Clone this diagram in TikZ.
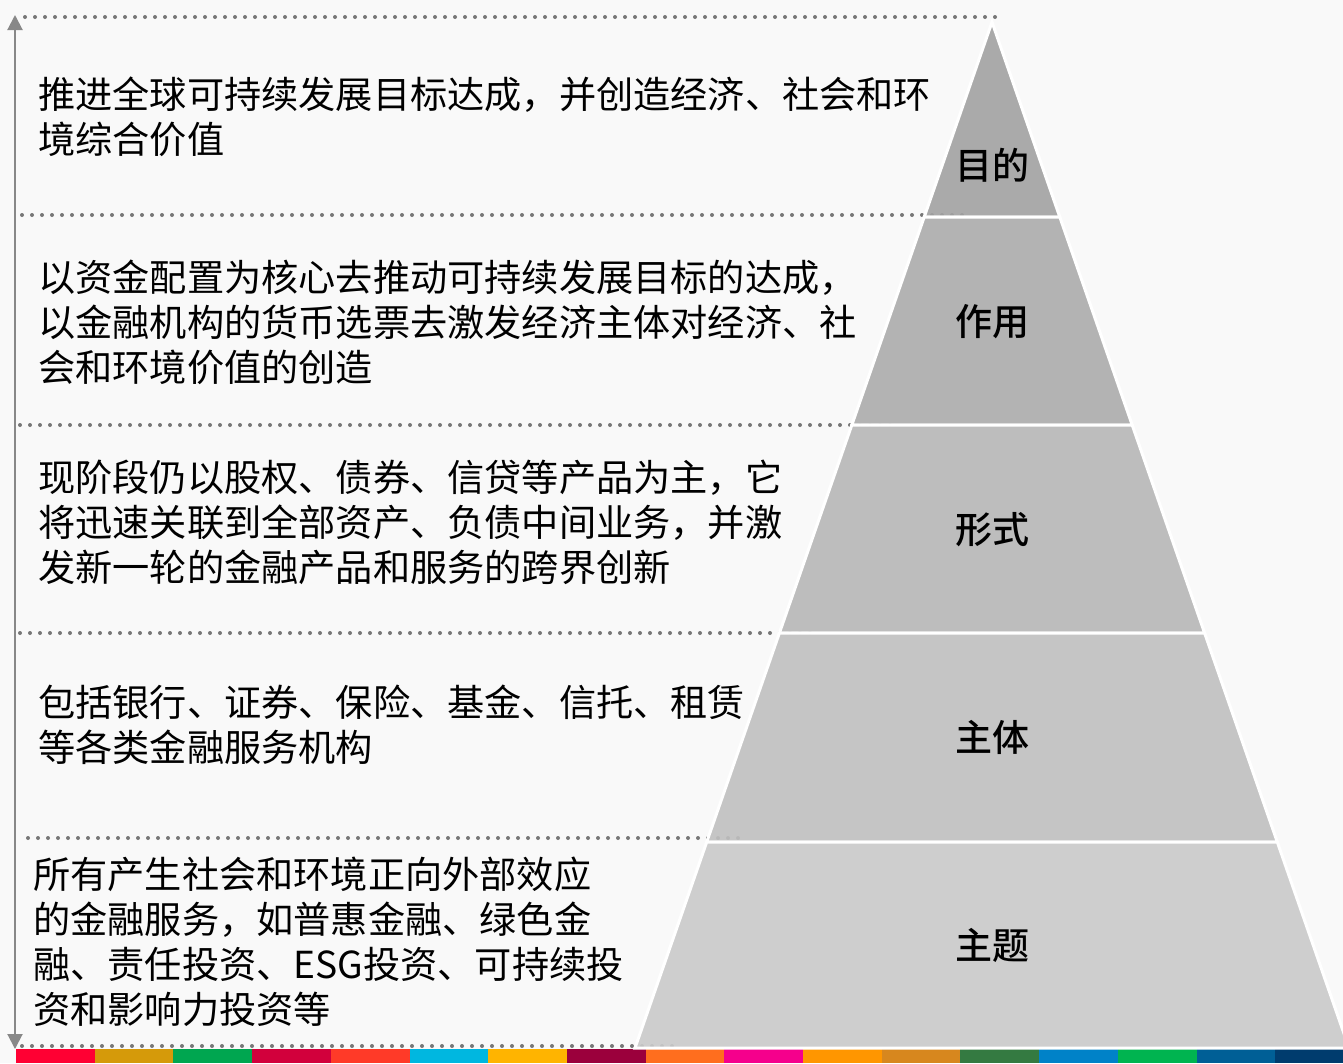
\documentclass[tikz,border=0pt]{standalone}
\usepackage{fontspec}
\newfontfamily\cjk{Noto Sans CJK SC}
\newfontfamily\cjkmed{Noto Sans CJK SC Medium}
\usetikzlibrary{arrows.meta}
\definecolor{bg}{HTML}{F9F9F9}
\definecolor{dotgray}{HTML}{777777}
\definecolor{axisgray}{HTML}{888888}
\definecolor{tierA}{HTML}{A2A2A2}
\definecolor{tierB}{HTML}{ACACAC}
\definecolor{tierC}{HTML}{B7B7B7}
\definecolor{tierD}{HTML}{C0C0C0}
\definecolor{tierE}{HTML}{CACACA}
\definecolor{sdga}{HTML}{FF0033}
\definecolor{sdgb}{HTML}{D59A0A}
\definecolor{sdgc}{HTML}{00A650}
\definecolor{sdgd}{HTML}{D2003C}
\definecolor{sdge}{HTML}{FF3A28}
\definecolor{sdgf}{HTML}{00B7E0}
\definecolor{sdgg}{HTML}{FFB400}
\definecolor{sdgh}{HTML}{9B003C}
\definecolor{sdgi}{HTML}{FF6E1E}
\definecolor{sdgj}{HTML}{F5008C}
\definecolor{sdgk}{HTML}{FF9600}
\definecolor{sdgl}{HTML}{D7871E}
\definecolor{sdgm}{HTML}{347A41}
\definecolor{sdgn}{HTML}{0082C8}
\definecolor{sdgo}{HTML}{00B450}
\definecolor{sdgp}{HTML}{005F96}
\definecolor{sdgq}{HTML}{003C6E}

\begin{document}
\begin{tikzpicture}[x=1pt, y=-1pt,
		sep/.style={dotgray, line width=4pt, line cap=round, dash pattern=on 0pt off 10pt},
		band/.style={draw=white, line width=3pt, fill opacity=0.9},
		desc/.style={anchor=west, align=left, inner sep=0pt, font=\cjk\fontsize{37.2}{45}\selectfont},
		tier/.style={inner sep=0pt, font=\cjkmed\fontsize{37}{45}\selectfont}]
			\fill[bg] (0,0) rectangle (1343,1063);
			\useasboundingbox (0,0) rectangle (1343,1063);
			\foreach \c [count=\i from 0] in {sdga,sdgb,sdgc,sdgd,sdge,sdgf,sdgg,sdgh,sdgi,sdgj,sdgk,sdgl,sdgm,sdgn,sdgo,sdgp,sdgq}
				\fill[\c] (16+78.7*\i,1049) rectangle ++(78.7,14);
			\coordinate (top) at (15,15);
			\coordinate (bottom) at (15,1049);
			\draw[{Triangle[length=15pt,width=15pt]}-{Triangle[length=15pt,width=15pt]}, axisgray, line width=2pt] (bottom) -- (top);
			\draw[sep] (25,17) -- (1000,17);
			\draw[sep] (22,215) -- (968,215);
			\draw[sep] (20,425) -- (895,425);
			\draw[sep] (20,633) -- (818,633);
			\draw[sep] (28,838) -- (745,838);
			\draw[sep] (22,1046) -- (680,1046);
			\coordinate (apex) at (992,22);
			\filldraw[band, fill=tierA] (apex) -- (1059.8,217) -- (924.2,217) -- cycle;
			\filldraw[band, fill=tierB] (924.2,217) -- (1059.8,217) -- (1132.2,425) -- (851.8,425) -- cycle;
			\filldraw[band, fill=tierC] (851.8,425) -- (1132.2,425) -- (1204.6,633) -- (779.4,633) -- cycle;
			\filldraw[band, fill=tierD] (779.4,633) -- (1204.6,633) -- (1277.3,842) -- (706.7,842) -- cycle;
			\filldraw[band, fill=tierE] (706.7,842) -- (1277.3,842) -- (1349,1048) -- (635,1048) -- cycle;
			\node[tier] (purpose) at (992,165) {目的};
			\node[tier] (role) at (992,322) {作用};
			\node[tier] (form) at (992,530) {形式};
			\node[tier] (actor) at (992,737) {主体};
			\node[tier] (theme) at (992,945) {主题};
			\node[desc] (purposetext) at (38,117) {推进全球可持续发展目标达成，并创造经济、社会和环\\境综合价值};
			\node[desc] (roletext) at (38,322) {以资金配置为核心去推动可持续发展目标的达成，\\以金融机构的货币选票去激发经济主体对经济、社\\会和环境价值的创造};
			\node[desc] (formtext) at (38,522) {现阶段仍以股权、债券、信贷等产品为主，它\\将迅速关联到全部资产、负债中间业务，并激\\发新一轮的金融产品和服务的跨界创新};
			\node[desc] (actortext) at (38,725) {包括银行、证券、保险、基金、信托、租赁\\等各类金融服务机构};
			\node[desc] (themetext) at (33,942) {所有产生社会和环境正向外部效应\\的金融服务，如普惠金融、绿色金\\融、责任投资、ESG投资、可持续投\\资和影响力投资等};
		\end{tikzpicture}
\end{document}
